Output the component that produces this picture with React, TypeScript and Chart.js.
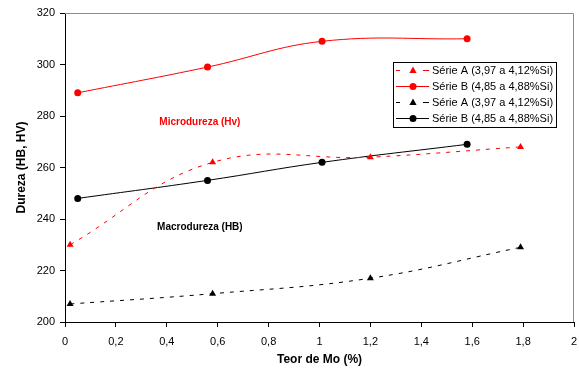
import React, { useEffect, useRef } from 'react';
import { Chart, registerables } from 'chart.js';

Chart.register(...registerables);

const FONT = "'Liberation Sans', Arial, Helvetica, sans-serif";

// Data
const serieAMicroX = [0.02, 0.58, 1.2, 1.79];
const serieAMicroY = [230, 262, 264, 268];
const serieBMicroX = [0.05, 0.56, 1.01, 1.58];
const serieBMicroY = [289, 299, 309, 310];
const serieAMacroX = [0.02, 0.58, 1.2, 1.79];
const serieAMacroY = [207, 211, 217, 229];
const serieBMacroX = [0.05, 0.56, 1.01, 1.58];
const serieBMacroY = [248, 255, 262, 269];

const labelA = 'Série A (3,97 a 4,12%Si)';
const labelB = 'Série B (4,85 a 4,88%Si)';
const xTitle = 'Teor de Mo (%)';
const yTitle = 'Dureza (HB, HV)';
const annotations = [
  { text: 'Microdureza (Hv)', x: 0.53, y: 277.7, color: '#ff0000' },
  { text: 'Macrodureza (HB)', x: 0.53, y: 236.9, color: '#000000' },
];

const toPts = (xs: number[], ys: number[]) => xs.map((x, i) => ({ x, y: ys[i] }));

const framePlugin = {
  id: 'frame',
  beforeDatasetsDraw(chart: any) {
    const { ctx, chartArea: a } = chart;
    ctx.save();
    ctx.strokeStyle = '#8c8c8c';
    ctx.lineWidth = 1;
    ctx.beginPath();
    ctx.moveTo(a.left, a.top + 0.5);
    ctx.lineTo(a.right - 0.5, a.top + 0.5);
    ctx.lineTo(a.right - 0.5, a.bottom);
    ctx.stroke();
    ctx.restore();
  },
};

const annotationPlugin = {
  id: 'annot',
  afterDatasetsDraw(chart: any) {
    const { ctx, scales } = chart;
    ctx.save();
    ctx.font = `bold 10px ${FONT}`;
    ctx.textAlign = 'center';
    ctx.textBaseline = 'middle';
    annotations.forEach((a) => {
      ctx.fillStyle = a.color;
      ctx.fillText(a.text, scales.x.getPixelForValue(a.x), scales.y.getPixelForValue(a.y));
    });
    ctx.restore();
  },
};

const legendPlugin = {
  id: 'customLegend',
  afterDraw(chart: any) {
    const { ctx } = chart;
    const bx = 393.5, by = 62.5, bw = 163, bh = 65;
    ctx.save();
    ctx.fillStyle = '#fff';
    ctx.fillRect(bx, by, bw, bh);
    ctx.strokeStyle = '#000';
    ctx.lineWidth = 1;
    ctx.strokeRect(bx, by, bw, bh);
    chart.data.datasets.forEach((ds: any, i: number) => {
      const y = 70.5 + i * 16;
      const x0 = 396, x1 = 429, xm = 413;
      ctx.strokeStyle = ds.borderColor;
      ctx.lineWidth = 1;
      ctx.beginPath();
      if (ds.borderDash && ds.borderDash.length) {
        ctx.moveTo(x0, y); ctx.lineTo(x0 + 4, y);
        ctx.moveTo(x1 - 6, y); ctx.lineTo(x1, y);
      } else {
        ctx.moveTo(x0, y); ctx.lineTo(x1, y);
      }
      ctx.stroke();
      ctx.fillStyle = ds.pointBackgroundColor;
      ctx.beginPath();
      if (ds.pointStyle === 'triangle') {
        const r = 4;
        ctx.moveTo(xm, y - r);
        ctx.lineTo(xm + r * 0.9, y + r * 0.6);
        ctx.lineTo(xm - r * 0.9, y + r * 0.6);
        ctx.closePath();
      } else {
        ctx.arc(xm, y, 3.5, 0, Math.PI * 2);
      }
      ctx.fill();
      ctx.fillStyle = '#000';
      ctx.font = `11px ${FONT}`;
      ctx.textAlign = 'left';
      ctx.textBaseline = 'middle';
      ctx.fillText(ds.label, 432, y + 0.5);
    });
    ctx.restore();
  },
};

export default function App() {
  const ref = useRef<HTMLCanvasElement>(null);
  useEffect(() => {
    if (!ref.current) return;
    const mk = (label: string, xs: number[], ys: number[], color: string, dashed: boolean, style: string) => ({
      label,
      data: toPts(xs, ys),
      borderColor: color,
      backgroundColor: color,
      pointBackgroundColor: color,
      pointBorderColor: color,
      borderWidth: 1,
      borderDash: dashed ? [4, 6] : [],
      pointStyle: style,
      pointRadius: style === 'triangle' ? 4 : 3.5,
      pointBorderWidth: 0,
      tension: 0.4,
      fill: false,
    });
    const chart = new Chart(ref.current, {
      type: 'line',
      data: {
        datasets: [
          mk(labelA, serieAMicroX, serieAMicroY, '#ff0000', true, 'triangle'),
          mk(labelB, serieBMicroX, serieBMicroY, '#ff0000', false, 'circle'),
          mk(labelA, serieAMacroX, serieAMacroY, '#000000', true, 'triangle'),
          mk(labelB, serieBMacroX, serieBMacroY, '#000000', false, 'circle'),
        ] as any,
      },
      options: {
        animation: false,
        responsive: false,
        devicePixelRatio: 1,
        layout: { padding: { top: 13, right: 5, left: 0, bottom: 0 } },
        plugins: { legend: { display: false }, tooltip: { enabled: false } },
        font: { family: FONT } as any,
        scales: {
          x: {
            type: 'linear',
            min: 0,
            max: 2,
            afterFit: (s: any) => { s.height = 49; s.paddingLeft = 0; s.paddingRight = 0; },
            grid: { drawOnChartArea: false, tickLength: 5, color: '#000' },
            border: { color: '#000', width: 1 },
            ticks: {
              stepSize: 0.2,
              padding: 8,
              color: '#000',
              font: { family: FONT, size: 11 },
              maxRotation: 0,
              callback: (v: any) => String(Math.round(Number(v) * 10) / 10).replace('.', ','),
            },
            title: {
              display: true,
              text: xTitle,
              color: '#000',
              font: { family: FONT, size: 12, weight: 'bold' },
              padding: { top: 0, bottom: 4 },
            },
          },
          y: {
            type: 'linear',
            min: 200,
            max: 320,
            afterFit: (s: any) => { s.width = 65; s.paddingTop = 0; s.paddingBottom = 0; },
            grid: { drawOnChartArea: false, tickLength: 5, color: '#000' },
            border: { color: '#000', width: 1 },
            ticks: {
              stepSize: 20,
              padding: 5,
              color: '#000',
              font: { family: FONT, size: 11 },
            },
            title: {
              display: true,
              text: yTitle,
              color: '#000',
              font: { family: FONT, size: 12, weight: 'bold' },
              padding: { top: 14, bottom: 0 },
            },
          },
        },
      } as any,
      plugins: [framePlugin, annotationPlugin, legendPlugin],
    });
    return () => chart.destroy();
  }, []);
  return (
    <div style={{ position: 'fixed', left: 0, top: 0, width: 579, height: 371, background: '#fff' }}>
      <canvas ref={ref} width={579} height={371} style={{ display: 'block' }} />
    </div>
  );
}
